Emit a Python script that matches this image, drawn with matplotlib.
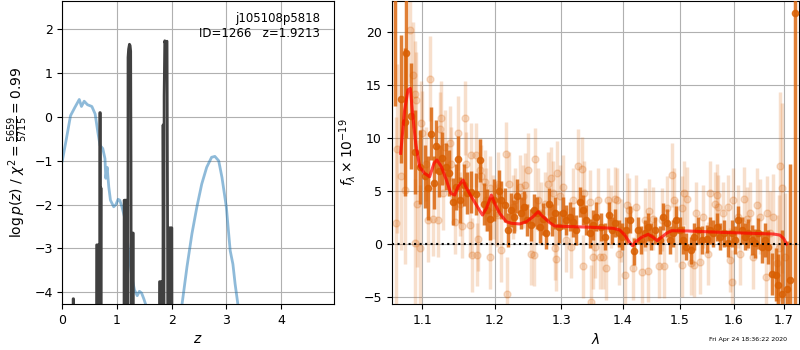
import numpy as np
import matplotlib
matplotlib.use("Agg")
from matplotlib import pyplot as plt

plt.rcParams['font.size'] = 9
plt.rcParams['axes.labelsize'] = 10

# left panel: chi2 curve (blue) and log p(z) spikes (black)
chi_z = [0.0, 0.08, 0.15, 0.23, 0.31, 0.35, 0.40, 0.46, 0.54, 0.60,
         0.65, 0.69, 0.74, 0.78, 0.795, 0.82, 0.85, 0.88, 0.94, 0.98,
         1.02, 1.05, 1.09, 1.15, 1.21, 1.27, 1.32, 1.37, 1.41, 1.45,
         1.49, 1.53, 1.70, 2.00, 2.15, 2.19, 2.28, 2.37, 2.46, 2.55,
         2.64, 2.73, 2.79, 2.86, 2.92, 3.00, 3.07, 3.12, 3.16, 3.21, 3.30]
chi_val = [-1.0, -0.46, 0.03, 0.22, 0.40, 0.24, 0.36, 0.28, 0.24, 0.07,
           -0.35, -0.65, -0.72, -0.95, -1.4, -1.15, -1.6, -1.9, -2.05, -2.0,
           -1.88, -1.9, -2.05, -2.35, -3.04, -3.65, -3.95, -4.08, -3.98, -4.02,
           -4.15, -4.3, -5.5, -5.5, -4.6, -4.27, -3.42, -2.67, -2.06, -1.53,
           -1.15, -0.92, -0.90, -1.0, -1.38, -2.06, -3.05, -3.36, -3.81, -4.27, -5.0]

pz_z = [0.195, 0.198, 0.205, 0.208,
        0.625, 0.628, 0.66, 0.663, 0.683, 0.686, 0.694, 0.697, 0.705, 0.708, 0.714,
        1.128, 1.131, 1.175, 1.178, 1.186, 1.19, 1.198, 1.202, 1.212, 1.228,
        1.24, 1.25, 1.256, 1.262, 1.284, 1.287, 1.297, 1.30,
        1.775, 1.778, 1.817, 1.82, 1.84, 1.843, 1.858, 1.862, 1.874, 1.878,
        1.90, 1.915, 1.925, 1.93, 1.956, 1.959, 2.003, 2.006]
pz_logp = [-6, -4.15, -4.15, -6,
           -6, -2.92, -2.92, -6, -6, 0.1, 0.1, -6, -1.62, -1.62, -6,
           -6, -1.9, -1.9, -6, -3.35, -6, -6, 1.36, 1.55, 1.66,
           1.63, 1.5, -1.0, -6, -6, -2.65, -2.65, -6,
           -6, -3.76, -3.76, -6, -6, -0.18, -6, 0.48, 1.74, 1.70,
           1.72, 1.73, -2.6, -6, -6, -2.53, -2.53, -6]

# right panel: binned spectrum
dark_wave = [1.0639, 1.0725, 1.0768, 1.0781, 1.0855, 1.0898, 1.0964, 1.1030, 1.1074, 1.1111,
             1.1155, 1.1187, 1.1222, 1.1268, 1.1313, 1.1358, 1.1413, 1.1450, 1.1482, 1.1515,
             1.1561, 1.1607, 1.1669, 1.1730, 1.1786, 1.1843, 1.1890, 1.1929, 1.1987, 1.2059,
             1.2098, 1.2147, 1.2195, 1.2235, 1.2283, 1.2334, 1.2383, 1.2432, 1.2483, 1.2533,
             1.2583, 1.2635, 1.2670, 1.2720, 1.2773, 1.2808, 1.2859, 1.2912, 1.2963, 1.3031,
             1.3084, 1.3136, 1.3189, 1.3243, 1.3295, 1.3348, 1.3403, 1.3457, 1.3510, 1.3566,
             1.3648, 1.3702, 1.3768, 1.3823, 1.3880, 1.3935, 1.3990, 1.4065, 1.4121, 1.4194,
             1.4253, 1.4309, 1.4378, 1.4436, 1.4495, 1.4565, 1.4641, 1.4699, 1.4760, 1.4818,
             1.4877, 1.4938, 1.4998, 1.5057, 1.5119, 1.5198, 1.5258, 1.5332,
             1.5406, 1.5488, 1.5550, 1.5611, 1.5676, 1.5738, 1.5820, 1.5885, 1.5961, 1.6025,
             1.6089, 1.6155, 1.6219, 1.6284, 1.6351, 1.6416, 1.6481, 1.6549, 1.6615, 1.6681,
             1.6762, 1.6830, 1.6883, 1.6965, 1.7055, 1.7123, 1.7227]
dark_flux = [24.0, 13.7, 11.5, 18.0, 12.1, 8.7, 7.3, 6.4, 5.3, 10.4,
             5.8, 9.25, 6.9, 8.1, 7.3, 6.7, 4.0, 5.4, 8.0, 4.15,
             5.6, 4.8, 4.9, 4.7, 7.9, 3.8, 3.2, 2.4, 4.15, 5.0,
             4.15, 3.7, 1.3, 3.2, 2.6, 4.5, 2.9, 3.5, 2.3, 1.8,
             3.2, 2.9, 1.6, 2.4, 1.0, 3.8, 2.3, 2.9, 1.6, 2.9,
             2.3, 2.6, 2.1, 1.3, 4.0, 3.2, 2.3, 1.0, 1.8, 2.6,
             1.6, 0.7, 2.7, 1.3, 2.0, 1.0, 0.7, 1.3, 2.3, -0.7,
             1.3, 0.4, 1.0, 1.6, 0.7, 1.3, 0.4, 2.6, 2.0, 0.4,
             1.0, 2.3, 1.3, 0.4, -0.25, -0.6, 0.7, 1.3,
             0.4, 0.5, 1.3, 1.0, 1.6, 0.7, 1.0, 0.06, 1.0, 0.4,
             2.3, 1.3, 0.7, 1.0, 0.4, 0.06, 1.0, -0.25, 0.4, -0.25,
             -2.8, -2.9, -3.9, -4.7, -4.2, -3.4, 21.8]
dark_err = [11, 6, 7, 8, 5, 4, 3.5, 3, 3, 2.5,
            2.5, 2.5, 2.5, 2.5, 2.2, 2.2, 2.2, 2.2, 2.2, 2.2,
            2, 2, 2, 2, 2, 2, 2, 2, 2, 2,
            1.8, 1.6, 1.6, 1.6, 1.6, 1.6, 1.5, 1.5, 1.5, 1.5,
            1.5, 1.5, 1.5, 1.5, 1.5, 1.5, 1.5, 1.5, 1.5, 1.5,
            1.4, 1.4, 1.4, 1.4, 1.4, 1.4, 1.4, 1.4, 1.4, 1.4,
            1.3, 1.3, 1.3, 1.3, 1.3, 1.3, 1.3, 1.3, 1.3, 1.3,
            1.3, 1.3, 1.3, 1.3, 1.3, 1.3, 1.3, 1.3, 1.3, 1.3,
            1.3, 1.3, 1.3, 1.3, 1.3, 1.3, 1.3, 1.3,
            1.3, 1.3, 1.3, 1.3, 1.3, 1.3, 1.3, 1.3, 1.3, 1.3,
            1.3, 1.3, 1.3, 1.4, 1.4, 1.4, 1.5, 1.5, 1.6, 1.6,
            2.0, 2.5, 3.0, 6.0, 4.5, 11.0, 30.0]

# right panel: unbinned spectrum
light_wave = [1.0661, 1.0668, 1.0725, 1.0768, 1.0833, 1.0876, 1.0898, 1.0898, 1.0921, 1.0929,
              1.0973, 1.0987, 1.1000, 1.1053, 1.1074, 1.1097, 1.1141, 1.1209, 1.1232, 1.1255,
              1.1276, 1.1300, 1.1368, 1.1391, 1.1437, 1.1482, 1.1506, 1.1543, 1.1575, 1.1599,
              1.1645, 1.1669, 1.1677, 1.1739, 1.1747, 1.1762, 1.1786, 1.1810, 1.1857, 1.1882,
              1.1929, 1.1938, 1.1977, 1.2016, 1.2033, 1.2049,
              1.2098, 1.2171, 1.2186, 1.2205, 1.2269, 1.2294, 1.2368, 1.2417, 1.2443, 1.2492,
              1.2544, 1.2583, 1.2604, 1.2644, 1.2696, 1.2746, 1.2797, 1.2850, 1.2874, 1.2901,
              1.2927, 1.2943, 1.2979, 1.3031, 1.3084, 1.3152, 1.3189, 1.3268, 1.3332, 1.3348,
              1.3364, 1.3457, 1.3473, 1.3510, 1.3538, 1.3592,
              1.3620, 1.3674, 1.3730, 1.3756, 1.3813, 1.3868, 1.3913, 1.3935, 1.3980, 1.4036,
              1.4082, 1.4109, 1.4177, 1.4235, 1.4322, 1.4378, 1.4436, 1.4448, 1.4523, 1.4623,
              1.4671, 1.4717, 1.4760, 1.4859, 1.4895, 1.4938, 1.5039, 1.5045, 1.5076, 1.5137,
              1.5198, 1.5258, 1.5302,
              1.5363, 1.5425, 1.5518, 1.5550, 1.5644, 1.5676, 1.5706, 1.5801, 1.5896, 1.5929,
              1.5973, 1.5992, 1.6077, 1.6122, 1.6206, 1.6252, 1.6317, 1.6382, 1.6450, 1.6515,
              1.6629, 1.6649, 1.6715, 1.6782, 1.6851, 1.6897, 1.6918, 1.6953, 1.7020]
light_flux = [2.0, 9.0, 6.4, 5.1, 20.2, 16.0, 14.2, 0.1, 13.6, 3.8,
              -0.4, 11.4, 10.5, 7.6, 2.3, 15.6, 2.4, 2.3, 10.9, 11.9,
              4.8, 9.2, 9.5, 7.6, 2.1, 10.5, 3.8, 1.7, 11.9, 7.6,
              1.8, 8.4, -1.0, 8.4, -1.0, 0.5, 7.0, 6.4, 5.9, 4.2,
              5.3, -1.2, 3.5, 2.9, 2.7, 5.7,
              -0.6, 8.5, -4.7, 5.7, 3.5, 4.2, 5.4, 4.5, 5.6, 7.0,
              -0.9, -1.0, 8.0, 4.2, 2.9, 3.8, 5.7, 6.2, 4.8, -0.4,
              -1.4, 6.7, 4.5, 5.4, 0.4, -0.25, 4.2, 7.4, 7.1, -2.1,
              4.8, 4.0, -5.5, -1.2, -0.25, 4.2,
              -1.2, -1.2, -2.3, 4.2, 2.6, 4.3, 4.2, -0.9, 1.3, -2.9,
              3.7, 3.2, -2.3, 3.5, -2.6, 2.3, -2.5, 3.1, 2.4, -2.1,
              2.3, -2.1, 3.4, 6.5, 4.2, 1.3, 3.4, -2.0, 4.8, 4.3,
              -1.8, -2.0, 2.9,
              -1.7, 2.6, -0.9, 4.8, 3.8, 4.6, 3.5, 2.9, 3.5, -1.5,
              -3.6, 4.2, 2.6, -0.9, 4.3, 2.4, 2.9, -1.2, 3.7, 2.6,
              -3.1, 2.9, 1.0, 2.6, -1.8, -0.4, 7.4, 5.3, -1.2]
light_err = [10, 8, 7, 7, 5, 5, 5, 6, 4.5, 6,
             6, 4, 4, 3.5, 4, 4, 3.5, 3.5, 3.5, 3.5,
             3.5, 3.5, 3.5, 3.5, 3, 3.5, 3, 3, 3.5, 3,
             3, 3, 3.5, 3, 3, 3, 3, 3, 3, 3,
             3, 3, 3, 3, 3, 3,
             3, 3, 3.5, 3, 3, 3, 3, 3, 3, 3.5,
             3, 3, 3, 3, 3, 3, 3, 3, 3, 3,
             3, 3, 3, 3, 3, 3, 3, 3.5, 3, 3,
             3, 3, 3.5, 3, 3, 3,
             3, 3, 3, 3, 3, 3, 3, 3, 3, 3,
             3, 3, 3, 3, 3, 3, 3, 3, 3, 3,
             3, 3, 3, 3, 3, 3, 3, 3, 3, 3,
             3, 3, 3,
             3, 3, 3, 3, 3, 3, 3, 3, 3, 3,
             3, 3, 3, 3, 3, 3, 3, 3, 3.5, 3.5,
             3.5, 3.5, 4, 4, 4.5, 5, 7, 8, 6]

# best-fit model
model_wave = [1.0716, 1.0768, 1.0811, 1.0842, 1.0876, 1.0912, 1.0964, 1.1030, 1.1097, 1.1155,
              1.1195, 1.1255, 1.1323, 1.1382, 1.1437, 1.1482, 1.1552, 1.1589, 1.1669, 1.1739,
              1.1825, 1.1882, 1.1953, 1.2001, 1.2074, 1.2171, 1.2245, 1.2368, 1.2468, 1.2568,
              1.2644, 1.2720, 1.2823, 1.2901, 1.3189, 1.3510, 1.3840, 1.3952, 1.4036, 1.4109,
              1.4167, 1.4224, 1.4322, 1.4436, 1.4523, 1.4593, 1.4671, 1.4760, 1.4848, 1.5180,
              1.5801, 1.6450, 1.6782, 1.6918, 1.7000, 1.7055]
model_flux = [8.57, 12.66, 14.55, 14.7, 12.0, 9.5, 7.3, 6.68, 6.36, 7.63,
              7.94, 7.3, 6.05, 4.8, 4.63, 5.42, 6.05, 5.42, 4.47, 3.69,
              2.74, 3.38, 4.63, 3.85, 2.9, 2.11, 1.96, 1.9, 2.11, 2.58,
              3.05, 2.58, 2.02, 1.7, 1.64, 1.58, 1.49, 1.33, 0.85, 0.22,
              -0.16, 0.22, 0.64, 0.92, 0.64, 0.32, 0.64, 1.02, 1.26, 1.23,
              1.1, 1.0, 0.95, 0.85, 0.5, 0.0]

wave_ticks = [1.1, 1.2, 1.3, 1.4, 1.5, 1.6, 1.7]
orange = '#d95f02'

fig = plt.figure(figsize=(8, 3.5), dpi=100)
ax1 = fig.add_axes([0.0779, 0.1314, 0.339, 0.866])
ax2 = fig.add_axes([0.4896, 0.1314, 0.509, 0.866])

ax1.plot(chi_z, chi_val, color='tab:blue', alpha=0.5, lw=2)
ax1.plot(pz_z, pz_logp, color='0.25', lw=2)
ax1.set_xlim(0, 4.96)
ax1.set_ylim(-4.27, 2.65)
ax1.set_xticks([0, 1, 2, 3, 4])
ax1.set_xlabel('$z$')
ax1.set_ylabel(r'$\log p(z)$ / $\chi^2=\frac{5659}{5715}=0.99$', labelpad=3)
ax1.text(0.95, 0.965, 'j105108p5818\nID=1266   z=1.9213',
         transform=ax1.transAxes, ha='right', va='top', fontsize=8.5)
ax1.grid()

ax2.errorbar(light_wave, light_flux, yerr=light_err, fmt='o',
             color=orange, alpha=0.2, ms=5, elinewidth=2.5, zorder=2)
ax2.errorbar(dark_wave, dark_flux, yerr=dark_err, fmt='o',
             color=orange, alpha=0.8, ms=4.5, elinewidth=2.5, zorder=3)
ax2.plot(model_wave, model_flux, color='r', alpha=0.7, lw=2.2, zorder=4)
ax2.axhline(0, color='k', ls=':', lw=1.5, zorder=5)
ax2.set_xscale('log')
ax2.set_xticks(wave_ticks, labels=[str(w) for w in wave_ticks])
ax2.minorticks_off()
ax2.set_xlim(1.0601, 1.731)
ax2.set_ylim(-5.66, 22.96)
ax2.set_xlabel(r'$\lambda$')
ax2.set_ylabel(r'$f_\lambda \times 10^{-19}$')
ax2.grid()

fig.text(0.984, 0.03, 'Fri Apr 24 18:36:22 2020', ha='right', va='center', fontsize=4.5)

fig.savefig('out.png', dpi=100)
